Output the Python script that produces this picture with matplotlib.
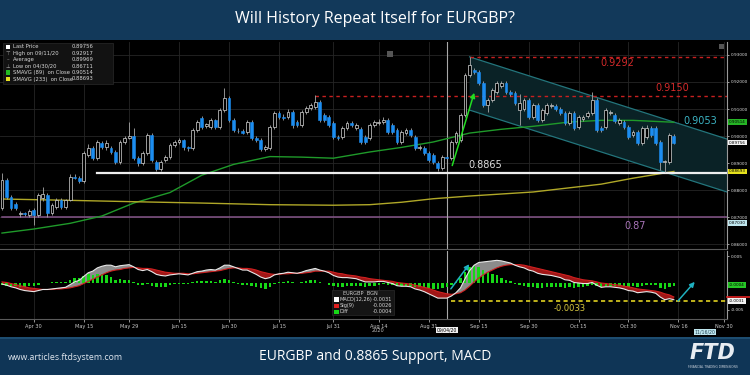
import numpy as np
import pandas as pd
import matplotlib
matplotlib.use("Agg")
import matplotlib.pyplot as plt
from matplotlib.patches import Rectangle, Polygon, FancyArrowPatch

# ---------------- data ----------------
start_date = "2020-04-21"
opens = [0.8733,0.8837,0.8774,0.8748,0.8711,0.8715,0.8708,0.8726,0.8707,0.8770,
         0.8780,0.8715,0.8737,0.8763,0.8737,0.8763,0.8850,0.8845,0.8833,0.8930,
         0.8956,0.8919,0.8974,0.8959,0.8956,0.8941,0.8904,0.8978,0.8993,0.9000,
         0.8919,0.8900,0.8937,0.9003,0.8904,0.8878,0.8911,0.8922,0.8967,0.8978,
         0.8985,0.8959,0.8956,0.9022,0.9067,0.9037,0.9033,0.9059,0.9033,0.9096,
         0.9141,0.9059,0.9020,0.9017,0.9015,0.9052,0.8993,0.8985,0.8952,0.8956,
         0.9033,0.9085,0.9070,0.9070,0.9089,0.9052,0.9041,0.9089,0.9104,0.9107,
         0.9126,0.9078,0.9070,0.9048,0.8996,0.8996,0.9030,0.9048,0.9030,0.9026,
         0.8996,0.8993,0.9041,0.9048,0.9052,0.9059,0.9041,0.9022,0.8978,0.9011,
         0.9022,0.8996,0.8956,0.8956,0.8937,0.8930,0.8900,0.8881,0.8922,0.8919,
         0.8978,0.8985,0.9078,0.9226,0.9244,0.9237,0.9196,0.9115,0.9133,0.9163,
         0.9185,0.9196,0.9163,0.9159,0.9096,0.9100,0.9133,0.9070,0.9115,0.9059,
         0.9085,0.9111,0.9113,0.9100,0.9085,0.9048,0.9085,0.9033,0.9063,0.9074,
         0.9085,0.9133,0.9030,0.9033,0.9085,0.9078,0.9048,0.9052,0.9033,0.9004,
         0.9015,0.8974,0.8996,0.9030,0.9030,0.8978,0.8904,0.8904,0.9000]
highs = [0.8863,0.8846,0.8782,0.8756,0.8722,0.8720,0.8730,0.8735,0.8790,0.8811,
         0.8788,0.8752,0.8770,0.8770,0.8768,0.8860,0.8858,0.8852,0.8945,0.8970,
         0.8963,0.8985,0.8982,0.8985,0.8963,0.8948,0.8985,0.9000,0.9052,0.9030,
         0.8926,0.8945,0.9010,0.9010,0.8910,0.8912,0.8930,0.8975,0.8985,0.8992,
         0.8990,0.8965,0.9030,0.9060,0.9075,0.9050,0.9066,0.9064,0.9104,0.9178,
         0.9148,0.9065,0.9030,0.9025,0.9060,0.9060,0.9000,0.8992,0.8966,0.9040,
         0.9092,0.9092,0.9080,0.9100,0.9096,0.9060,0.9096,0.9110,0.9122,0.9152,
         0.9133,0.9085,0.9078,0.9055,0.9004,0.9037,0.9056,0.9055,0.9048,0.9033,
         0.9004,0.9048,0.9060,0.9064,0.9070,0.9066,0.9048,0.9030,0.9022,0.9030,
         0.9030,0.9004,0.8966,0.8963,0.8945,0.8937,0.8908,0.8930,0.8930,0.8985,
         0.9018,0.9085,0.9233,0.9292,0.9252,0.9244,0.9204,0.9140,0.9178,0.9204,
         0.9204,0.9204,0.9170,0.9166,0.9156,0.9140,0.9140,0.9122,0.9122,0.9104,
         0.9122,0.9122,0.9120,0.9107,0.9092,0.9092,0.9092,0.9078,0.9078,0.9092,
         0.9163,0.9140,0.9037,0.9104,0.9096,0.9085,0.9066,0.9060,0.9040,0.9022,
         0.9022,0.9037,0.9041,0.9037,0.9037,0.8985,0.8912,0.9011,0.9008]
lows = [0.8725,0.8768,0.8728,0.8725,0.8702,0.8704,0.8700,0.8671,0.8700,0.8760,
        0.8700,0.8708,0.8730,0.8730,0.8730,0.8758,0.8840,0.8828,0.8828,0.8922,
        0.8910,0.8912,0.8952,0.8950,0.8935,0.8898,0.8896,0.8970,0.8988,0.8912,
        0.8890,0.8892,0.8930,0.8904,0.8870,0.8870,0.8904,0.8915,0.8960,0.8970,
        0.8950,0.8945,0.8950,0.9015,0.9025,0.9030,0.9026,0.9025,0.9026,0.9090,
        0.9052,0.9015,0.9010,0.9006,0.9008,0.8986,0.8978,0.8945,0.8944,0.8950,
        0.9026,0.9064,0.9060,0.9062,0.9030,0.9034,0.9034,0.9082,0.9097,0.9100,
        0.9052,0.9052,0.9034,0.8990,0.8985,0.8990,0.9022,0.9035,0.9022,0.8970,
        0.8970,0.8986,0.9034,0.9040,0.9045,0.9008,0.9008,0.8970,0.8970,0.9004,
        0.8997,0.8948,0.8948,0.8930,0.8904,0.8897,0.8871,0.8874,0.8912,0.8912,
        0.8970,0.8978,0.9070,0.9218,0.9230,0.9190,0.9108,0.9089,0.9126,0.9156,
        0.9178,0.9156,0.9148,0.9115,0.9041,0.9092,0.9063,0.9062,0.9052,0.9052,
        0.9078,0.9104,0.9093,0.9078,0.9041,0.9041,0.9022,0.9026,0.9056,0.9066,
        0.9078,0.9015,0.9015,0.9026,0.9078,0.9048,0.9040,0.9026,0.8989,0.8996,
        0.8966,0.8966,0.8989,0.8996,0.8966,0.8874,0.8867,0.8897,0.8970]
closes = [0.8837,0.8774,0.8733,0.8733,0.8715,0.8711,0.8722,0.8707,0.8780,0.8785,
          0.8715,0.8744,0.8763,0.8737,0.8763,0.8848,0.8845,0.8833,0.8937,0.8956,
          0.8919,0.8978,0.8959,0.8974,0.8941,0.8904,0.8978,0.8993,0.9000,0.8919,
          0.8900,0.8937,0.9003,0.8911,0.8878,0.8904,0.8922,0.8967,0.8978,0.8985,
          0.8959,0.8956,0.9022,0.9052,0.9033,0.9044,0.9059,0.9033,0.9096,0.9141,
          0.9059,0.9022,0.9017,0.9013,0.9052,0.8993,0.8985,0.8952,0.8959,0.9033,
          0.9085,0.9070,0.9067,0.9089,0.9041,0.9041,0.9089,0.9104,0.9115,0.9126,
          0.9059,0.9059,0.9041,0.8996,0.8993,0.9030,0.9048,0.9041,0.9041,0.8978,
          0.8978,0.9041,0.9052,0.9052,0.9059,0.9015,0.9015,0.8978,0.9015,0.9022,
          0.9004,0.8956,0.8959,0.8937,0.8911,0.8904,0.8881,0.8922,0.8919,0.8978,
          0.9011,0.9078,0.9226,0.9263,0.9237,0.9196,0.9115,0.9133,0.9170,0.9196,
          0.9196,0.9163,0.9156,0.9122,0.9122,0.9133,0.9070,0.9115,0.9059,0.9096,
          0.9115,0.9115,0.9100,0.9085,0.9048,0.9085,0.9030,0.9070,0.9070,0.9085,
          0.9133,0.9022,0.9022,0.9096,0.9089,0.9056,0.9059,0.9033,0.8996,0.9015,
          0.8974,0.9030,0.9030,0.9004,0.8974,0.8904,0.8907,0.9004,0.8976]

# moving averages read at selected candles
ma89_idx = [0, 7, 15, 22, 29, 37, 44, 51, 59, 66, 73, 81, 88, 95, 103, 110, 117, 125, 132, 139, 148]
ma89_val = [0.8641,0.8656,0.8677,0.8704,0.8752,0.8791,0.8855,0.8895,0.8924,0.8922,0.8918,
            0.8941,0.8958,0.8978,0.9011,0.9025,0.9036,0.9052,0.9058,0.9058,0.9051]
ma233_idx = [0, 15, 29, 44, 59, 73, 81, 88, 95, 103, 117, 132, 139, 148]
ma233_val = [0.8767,0.8762,0.8757,0.8752,0.8746,0.8744,0.8746,0.8755,0.8768,0.8778,
             0.8793,0.8822,0.8844,0.8869]

# MACD (in 1e-3 units)
macd = [-0.2,-0.4,-0.7,-0.9,-1.2,-1.4,-1.5,-1.6,-1.4,-1.2,-1.2,-1.1,-1.0,-0.9,-0.8,-0.3,0.2,0.5,1.2,1.9,
        2.2,2.8,3.1,3.3,3.3,3.0,3.2,3.3,3.4,3.0,2.5,2.3,2.5,2.1,1.6,1.4,1.3,1.5,1.6,1.7,
        1.6,1.5,1.8,2.1,2.2,2.4,2.5,2.4,2.8,3.3,3.3,3.0,2.7,2.4,2.4,2.0,1.6,1.1,0.8,1.0,
        1.5,1.7,1.8,2.0,1.9,1.8,2.0,2.3,2.5,2.7,2.4,2.2,1.9,1.4,1.1,1.0,1.0,0.9,0.8,0.5,
        0.2,0.2,0.2,0.3,0.3,0.1,-0.1,-0.5,-0.6,-0.6,-0.7,-1.1,-1.3,-1.6,-2.0,-2.4,-2.8,-2.8,-2.8,-2.4,
        -1.8,-0.9,0.8,2.3,3.3,3.8,3.9,4.0,4.1,4.2,4.1,3.9,3.7,3.3,3.0,2.8,2.4,2.2,1.8,1.6,
        1.5,1.4,1.2,1.0,0.6,0.5,0.1,0.0,-0.1,-0.1,0.1,-0.4,-0.8,-0.7,-0.7,-0.8,-0.9,-1.1,-1.4,-1.5,
        -1.8,-1.7,-1.6,-1.7,-1.9,-2.6,-3.1,-2.9,-3.1]
signal = [0.2,0.1,-0.1,-0.3,-0.5,-0.7,-0.9,-1.0,-1.1,-1.2,-1.2,-1.2,-1.1,-1.1,-1.0,-0.9,-0.7,-0.5,-0.1,0.3,
          0.7,1.1,1.5,1.9,2.2,2.4,2.5,2.7,2.8,2.9,2.8,2.7,2.7,2.6,2.4,2.2,2.0,1.9,1.8,1.8,
          1.8,1.7,1.7,1.8,1.9,2.0,2.1,2.2,2.3,2.5,2.7,2.8,2.8,2.7,2.7,2.6,2.4,2.1,1.9,1.7,
          1.6,1.6,1.7,1.7,1.8,1.8,1.8,1.9,2.0,2.2,2.2,2.2,2.2,2.0,1.8,1.7,1.5,1.4,1.3,1.1,
          1.0,0.8,0.7,0.6,0.5,0.4,0.3,0.1,0.0,-0.1,-0.2,-0.4,-0.6,-0.8,-1.0,-1.3,-1.6,-1.8,-2.0,-2.1,
          -2.0,-1.8,-1.3,-0.6,0.2,0.9,1.5,2.0,2.4,2.8,3.1,3.3,3.4,3.4,3.4,3.3,3.1,2.9,2.7,2.5,
          2.3,2.1,1.9,1.7,1.5,1.3,1.0,0.8,0.6,0.5,0.4,0.2,0.0,-0.1,-0.2,-0.3,-0.4,-0.6,-0.7,-0.9,
          -1.1,-1.2,-1.3,-1.4,-1.5,-1.7,-2.0,-2.2,-2.6]

tick_dates = ["2020-04-30","2020-05-15","2020-05-29","2020-06-15","2020-06-30","2020-07-15",
              "2020-07-31","2020-08-14","2020-08-31","2020-09-15","2020-09-30","2020-10-15",
              "2020-10-30","2020-11-16","2020-11-30"]
tick_labels = ["Apr 30","May 15","May 29","Jun 15","Jun 30","Jul 15","Jul 31","Aug 14",
               "Aug 31","Sep 15","Sep 30","Oct 15","Oct 30","Nov 16","Nov 30"]
price_ticks = [0.86, 0.87, 0.88, 0.89, 0.90, 0.91, 0.92, 0.93]

support_level = 0.8865
support_start = 21
res1_level, res1_start = 0.9150, 69
res2_level, res2_start = 0.9292, 103
purple_level = 0.87
chan_start = 103
chan_upper = (0.9293, 0.8989)
chan_lower = (0.9096, 0.8793)
event_idx = 98
arrow_up = ((99, 0.8881), (104.2, 0.9170))
macd_arrows = [((98.5, -1.5), (103.3, 3.9)), ((148.5, -3.7), (153.0, 0.6))]
macd_level = -3.3
macd_level_start = 99

# ---------------- helpers ----------------
W, H = 750, 375
def fx(x): return x / W
def fy(y): return 1 - y / H

plt.rcParams['font.family'] = ['DejaVu Sans']
fig = plt.figure(figsize=(7.5, 3.75), dpi=100, facecolor='black')

# banners
fig.patches.append(Rectangle((0, fy(40)), 1, 40 / H, transform=fig.transFigure,
                             facecolor='#12395a', edgecolor='none', zorder=0))
fig.patches.append(Rectangle((0, 0), 1, fy(337), transform=fig.transFigure,
                             facecolor='#0f3556', edgecolor='none', zorder=0))
fig.patches.append(Rectangle((0, fy(339)), 1, 2 / H, transform=fig.transFigure,
                             facecolor='#1d4d70', edgecolor='none', zorder=0))
fig.text(0.5, fy(19), "Will History Repeat Itself for EURGBP?", color='white',
         fontsize=11.5, ha='center', va='center', family='Open Sans')
fig.text(0.5, fy(357), "EURGBP and 0.8865 Support, MACD", color='white',
         fontsize=10, ha='center', va='center', family='Open Sans')
fig.text(fx(8), fy(357), "www.articles.ftdsystem.com", color='#e0e6ee',
         fontsize=6.3, ha='left', va='center', family='Open Sans')
fig.text(fx(713), fy(353), "FTD", color='#e8edf2', fontsize=15, fontweight='bold',
         style='italic', ha='center', va='center', family='DejaVu Sans')
fig.text(fx(713), fy(367), "FINANCIAL TRADING DIMENSIONS", color='#c8d0da',
         fontsize=2.2, ha='center', va='center')

n = len(closes)
idx = np.arange(n)
full_dates = pd.bdate_range(start_date, "2020-12-10")
tick_pos = [full_dates.get_loc(pd.Timestamp(d)) for d in tick_dates]

xlim = (-0.44, 159.7)
ax = fig.add_axes([0, fy(249), fx(727), (249 - 42) / H])
ax2 = fig.add_axes([0, fy(319), fx(727), (319 - 251) / H])
for a in (ax, ax2):
    a.set_facecolor('black')
    a.set_xlim(*xlim)
    for s in ('top', 'left'):
        a.spines[s].set_visible(False)
    a.spines['right'].set_color('#9a9a9a')
    a.spines['bottom'].set_color('#5a5a5a')
    a.spines['right'].set_linewidth(0.8)
    a.yaxis.tick_right()
    a.tick_params(axis='y', colors='#dddddd', labelsize=3.1, length=1.5, width=0.5, pad=1)
    a.set_xticks(tick_pos)
    for t in tick_pos:
        a.axvline(t, color='#262626', lw=0.6, zorder=0)

ax.set_ylim(0.8582, 0.9348)
ax.set_yticks(price_ticks)
ax.set_yticklabels([f"{p:.5f}" for p in price_ticks])
for p in price_ticks:
    ax.axhline(p, color='#262626', lw=0.6, zorder=0)
ax.tick_params(axis='x', length=0, labelbottom=False)

# channel
x_end = xlim[1]
chan = Polygon([(chan_start, chan_upper[0]), (x_end, chan_upper[1]),
                (x_end, chan_lower[1]), (chan_start, chan_lower[0])],
               closed=True, facecolor='#0a2226', edgecolor='none', zorder=1)
ax.add_patch(chan)
ax.plot([chan_start, x_end], list(chan_upper), color='#23757c', lw=0.9, zorder=2)
ax.plot([chan_start, x_end], list(chan_lower), color='#23757c', lw=0.9, zorder=2)

# horizontal levels
ax.plot([res1_start, x_end], [res1_level] * 2, color='#c82020', lw=1.0, ls=(0, (2.5, 2.5)), zorder=2)
ax.plot([res2_start, x_end], [res2_level] * 2, color='#c82020', lw=1.0, ls=(0, (2.5, 2.5)), zorder=2)
ax.plot([0, x_end], [purple_level] * 2, color='#85558a', lw=1.1, zorder=2)

# moving averages
ax.plot(ma89_idx, ma89_val, color='#1f9a2a', lw=1.0, zorder=3)
ax.plot(ma233_idx, ma233_val, color='#b0a828', lw=1.0, zorder=3)
ax.plot([support_start, x_end], [support_level] * 2, color='#eeeeee', lw=1.6, zorder=4)

# vertical event line
ax.axvline(event_idx, color='#a8a8a8', lw=0.8, zorder=2)
ax2.axvline(event_idx, color='#a8a8a8', lw=0.8, zorder=2)

# candles
o = np.array(opens); c = np.array(closes); h = np.array(highs); l = np.array(lows)
up = c >= o
ax.vlines(idx, l, h, color='#a8a8a8', lw=0.6, zorder=5)
body = np.maximum(np.abs(c - o), 0.00015)
ax.bar(idx[up], body[up], bottom=np.minimum(o, c)[up], width=0.62,
       facecolor='black', edgecolor='#d8d8d8', linewidth=0.5, zorder=6)
ax.bar(idx[~up], body[~up], bottom=np.minimum(o, c)[~up], width=0.62,
       facecolor='#1c8df0', edgecolor='#1c8df0', linewidth=0.4, zorder=6)

# green arrow
ax.add_patch(FancyArrowPatch(arrow_up[0], arrow_up[1], arrowstyle='-|>', mutation_scale=7,
                             color='#22dd22', lw=1.1, zorder=7))

# level labels
ax.text(135.5, 0.9270, "0.9292", color='#d42a2a', fontsize=7, ha='center', va='center', zorder=8)
ax.text(147.6, 0.9178, "0.9150", color='#d42a2a', fontsize=7, ha='center', va='center', zorder=8)
ax.text(153.7, 0.9056, "0.9053", color='#3cb4c4', fontsize=7, ha='center', va='center', zorder=8)
ax.text(106.4, 0.8893, "0.8865", color='#dcdcdc', fontsize=7, ha='center', va='center', zorder=8)
ax.text(139.4, 0.8667, "0.87", color='#a874b8', fontsize=7, ha='center', va='center', zorder=8)

# right value boxes
def rbox(a, y, txt, fc, tc='black'):
    a.text(1.003, y, txt, transform=a.get_yaxis_transform(), fontsize=3.0, color=tc,
           ha='left', va='center', zorder=10, clip_on=False,
           bbox=dict(boxstyle='square,pad=0.2', fc=fc, ec='none'))
rbox(ax, ma89_val[-1], "0.90514", '#26b526')
rbox(ax, closes[-1], "0.89756", '#f2f2f2')
rbox(ax, ma233_val[-1], "0.88693", '#e6e21e')
rbox(ax, 0.8677, "0.87030", '#bfe6ee')

# main legend
leg_rows = [("Last Price", "0.89756", '#ffffff', 'sq'),
            ("High on 09/11/20", "0.92917", '#aaaaaa', '⊤'),
            ("Average", "0.89969", '#aaaaaa', '–'),
            ("Low on 04/30/20", "0.86711", '#aaaaaa', '⊥'),
            ("SMAVG (89)  on Close", "0.90514", '#22bb22', 'sq'),
            ("SMAVG (233)  on Close", "0.88693", '#e6e020', 'sq')]
fig.patches.append(Rectangle((fx(3), fy(84)), fx(110), 41 / H, transform=fig.transFigure,
                             facecolor='#121212', edgecolor='#2a2a2a', lw=0.5, zorder=9))
for k, (lab, val, col, mk) in enumerate(leg_rows):
    yy = fy(47 + k * 6.4)
    if mk == 'sq':
        fig.patches.append(Rectangle((fx(5.5), yy - 2.2 / H), fx(4.5), 4.4 / H,
                                     transform=fig.transFigure, facecolor=col,
                                     edgecolor='none', zorder=10))
    else:
        fig.text(fx(7.7), yy, mk, color=col, fontsize=3.8, ha='center', va='center', zorder=10)
    fig.text(fx(13), yy, lab, color='#d8d8d8', fontsize=3.8, ha='left', va='center', zorder=10)
    fig.text(fx(93), yy, val, color='#d8d8d8', fontsize=3.8, ha='right', va='center', zorder=10)

# small icons
fig.patches.append(Rectangle((fx(387), fy(57)), fx(6), 6 / H, transform=fig.transFigure,
                             facecolor='#555555', edgecolor='none', zorder=9))
fig.patches.append(Rectangle((fx(719), fy(49)), fx(5), 5 / H, transform=fig.transFigure,
                             facecolor='#555555', edgecolor='none', zorder=9))

# ---------------- MACD panel ----------------
m = np.array(macd) / 1000.0
s = np.array(signal) / 1000.0
d = m - s
ax2.set_ylim(-0.00667, 0.00593)
ax2.set_yticks([-0.005, 0.005])
ax2.set_yticklabels(["-0.005", "0.005"])
ax2.fill_between(idx, m, s, where=m >= s, interpolate=True, color='#8c8c8c', lw=0, zorder=2)
ax2.fill_between(idx, m, s, where=m < s, interpolate=True, color='#a01616', lw=0, zorder=2)
ax2.bar(idx, d, width=0.55, color='#16d816', zorder=3)
ax2.plot(idx, s, color='#d02020', lw=0.8, zorder=4)
ax2.plot(idx, m, color='#e8e8e8', lw=0.8, zorder=5)
ax2.plot([macd_level_start, x_end], [macd_level / 1000] * 2, color='#e0d020', lw=1.2,
         ls=(0, (2.5, 2)), zorder=4)
ax2.text(125, -0.0048, "-0.0033", color='#d8c840', fontsize=6, ha='center', va='center', zorder=8)
for (p0, p1) in macd_arrows:
    ax2.add_patch(FancyArrowPatch((p0[0], p0[1] / 1000), (p1[0], p1[1] / 1000),
                                  arrowstyle='-|>', mutation_scale=7, color='#1fb0c0',
                                  lw=1.1, zorder=7))
rbox(ax2, -0.0004, "-0.0004", '#26c626')
ax2.plot([1.0, 1.035], [signal[-1] / 1000] * 2, transform=ax2.get_yaxis_transform(),
         color='#e02020', lw=1.2, clip_on=False, zorder=9)
rbox(ax2, -0.0033, "-0.0031", '#f2f2f2')

ax2.set_xticklabels(tick_labels)
ax2.tick_params(axis='x', colors='#cccccc', labelsize=3.6, length=2, width=0.5, pad=1.5)

# MACD legend
fig.patches.append(Rectangle((fx(332), fy(315)), fx(62), 25 / H, transform=fig.transFigure,
                             facecolor='#151515', edgecolor='#2a2a2a', lw=0.5, zorder=9))
fig.text(fx(360), fy(293.5), "EURGBP  BGN", color='#cccccc', fontsize=3.6,
         ha='center', va='center', zorder=10)
mrows = [("MACD(12,26)", "-0.0031", '#ffffff'), ("Sig(9)", "-0.0026", '#e02020'),
         ("Diff", "-0.0004", '#16d816')]
for k, (lab, val, col) in enumerate(mrows):
    yy = fy(299.5 + k * 6.2)
    fig.patches.append(Rectangle((fx(334), yy - 2.2 / H), fx(4.5), 4.4 / H,
                                 transform=fig.transFigure, facecolor=col,
                                 edgecolor='none', zorder=10))
    fig.text(fx(340), yy, lab, color='#d8d8d8', fontsize=3.6, ha='left', va='center', zorder=10)
    fig.text(fx(392), yy, val, color='#d8d8d8', fontsize=3.6, ha='right', va='center', zorder=10)

# date labels under axis
fig.text(fx(378), fy(330), "2020", color='#bbbbbb', fontsize=3.6, ha='center', va='center')
fig.text(fx(447), fy(330), "09/04/20", color='black', fontsize=3.3, ha='center', va='center',
         bbox=dict(boxstyle='square,pad=0.2', fc='#f0f0f0', ec='none'))
fig.text(fx(705), fy(332), "11/16/20", color='#204050', fontsize=3.3, ha='center', va='center',
         bbox=dict(boxstyle='square,pad=0.2', fc='#bfe6ee', ec='none'))

fig.savefig("out.png", dpi=100, facecolor='black')
